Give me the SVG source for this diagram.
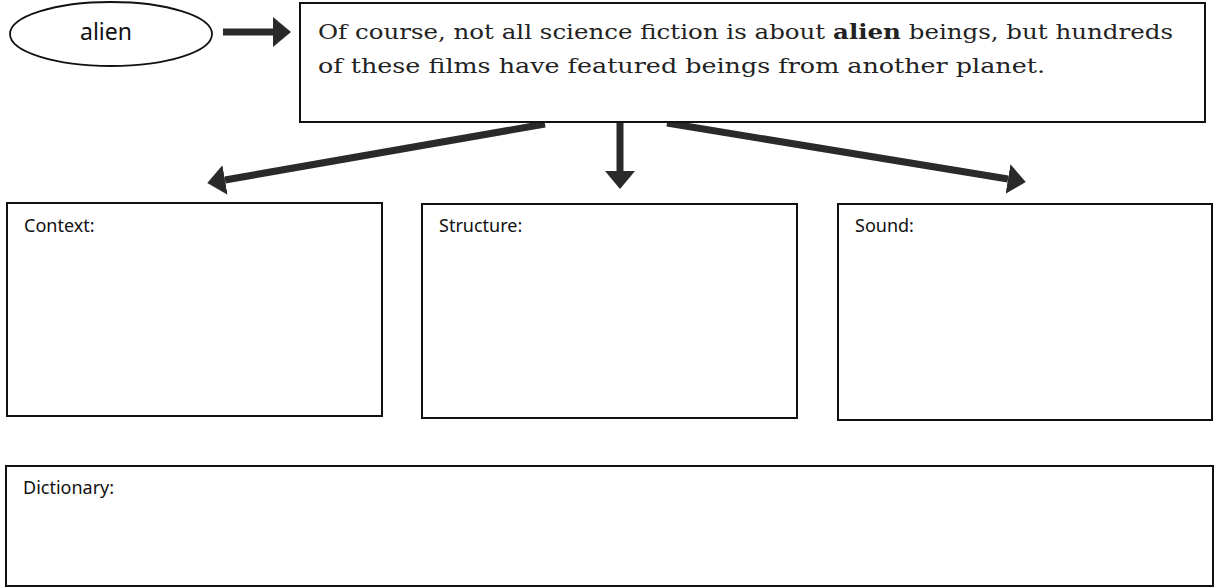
<svg xmlns="http://www.w3.org/2000/svg" width="1215" height="588" viewBox="0 0 1215 588">
<style>
.box{fill:#fff;stroke:#111;stroke-width:2}
.lbl{font-family:"Noto Sans","Open Sans",sans-serif;font-size:18px;fill:#111}
.quote{font-family:"DejaVu Serif","Liberation Serif",serif;font-size:21px;fill:#222}
.conn{stroke:#2a2a2a;stroke-width:7;fill:none}
</style>
<defs>
<marker id="ah" markerUnits="userSpaceOnUse" markerWidth="18" markerHeight="30" refX="0" refY="15" orient="auto">
<path d="M0,0 L18,15 L0,30 Z" fill="#2a2a2a"/>
</marker>
</defs>
<rect width="1215" height="588" fill="#fff"/>
<g id="connectors">
<line class="conn" x1="223" y1="32" x2="273" y2="32" marker-end="url(#ah)"/>
<line class="conn" x1="545" y1="124" x2="225" y2="180" marker-end="url(#ah)"/>
<line class="conn" x1="620" y1="122" x2="620" y2="171" marker-end="url(#ah)"/>
<line class="conn" x1="667" y1="123" x2="1008" y2="179" marker-end="url(#ah)"/>
</g>
<g id="word">
<ellipse cx="111" cy="34" rx="101" ry="32" fill="#fff" stroke="#111" stroke-width="1.8"/>
<text class="lbl" x="106" y="40" text-anchor="middle" style="font-size:23px">alien</text>
</g>
<g id="sentence">
<rect class="box" x="300" y="3" width="905" height="119"/>
<text class="quote" x="318" y="39" textLength="855" lengthAdjust="spacingAndGlyphs">Of course, not all science fiction is about <tspan font-weight="bold">alien</tspan> beings, but hundreds</text>
<text class="quote" x="318" y="73" textLength="727" lengthAdjust="spacingAndGlyphs">of these films have featured beings from another planet.</text>
</g>
<g id="context">
<rect class="box" x="7" y="203" width="375" height="213"/>
<text class="lbl" x="24" y="232">Context:</text>
</g>
<g id="structure">
<rect class="box" x="422" y="204" width="375" height="214"/>
<text class="lbl" x="439" y="232">Structure:</text>
</g>
<g id="sound">
<rect class="box" x="838" y="204" width="374" height="216"/>
<text class="lbl" x="855" y="232">Sound:</text>
</g>
<g id="dictionary">
<rect class="box" x="6" y="466" width="1207" height="120"/>
<text class="lbl" x="23" y="494">Dictionary:</text>
</g>
</svg>
